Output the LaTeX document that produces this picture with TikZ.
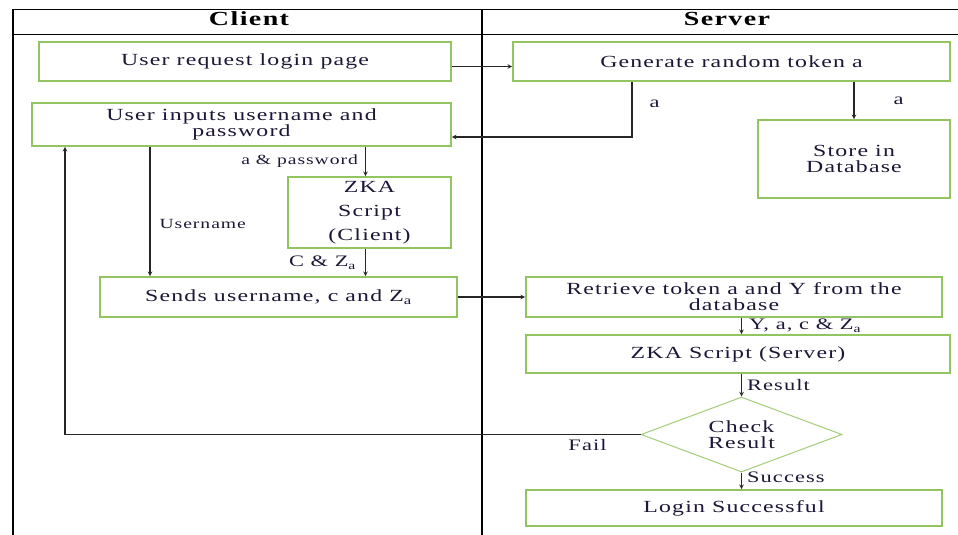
\documentclass[tikz,border=0pt]{standalone}
\usepackage{fontspec}
\setmainfont[FakeStretch=1.4,LetterSpace=7]{Liberation Serif}
\usetikzlibrary{shapes.geometric}
\definecolor{boxgreen}{RGB}{146,196,96}
\definecolor{inkc}{RGB}{30,22,55}

\begin{document}
\begin{tikzpicture}[x=1pt,y=-1pt,>=stealth,
  box/.style={rectangle,draw=boxgreen,line width=1.6pt,inner sep=0pt,align=center,text=inkc,font=\fontsize{17}{16}\selectfont},
  lbl/.style={text=inkc,inner sep=1pt,font=\fontsize{16}{16}\selectfont},
  flow/.style={->,line width=1.1pt,draw=black!85}]
  \useasboundingbox (0,0) rectangle (958,535);
  % lanes
  \draw[line width=1pt] (12,10) -- (958,10) (12,35) -- (958,35);
  \draw[line width=2.2pt] (13,10) -- (13,535);
  \draw[line width=1.8pt] (482,10) -- (482,535);
  \node[font=\fontsize{20}{20}\selectfont\bfseries] (client) at (249,19) {Client};
  \node[font=\fontsize{20}{20}\selectfont\bfseries] (server) at (727,19) {Server};
  % client side
  \node[box,minimum width=412pt,minimum height=39pt] (req) at (245,61.5) {User request login page};
  \node[box,minimum width=419pt,minimum height=43pt] (inp) at (241.5,124.5) {User inputs username and\\password};
  \node[box,minimum width=163pt,minimum height=71pt] (zkac) at (369.5,212.5) {ZKA\\[8pt]Script\\[8pt](Client)};
  \node[box,minimum width=357pt,minimum height=40pt] (send) at (278.5,297) {Sends username, c and Z\textsubscript{a}};
  % server side
  \node[box,minimum width=437pt,minimum height=39pt] (gen) at (731.5,61.5) {Generate random token a};
  \node[box,minimum width=192pt,minimum height=78pt] (store) at (854,159) {Store in\\Database};
  \node[box,minimum width=416pt,minimum height=40pt] (retr) at (734,297) {Retrieve token a and Y from the\\database};
  \node[box,minimum width=424pt,minimum height=38pt] (zkas) at (738,354) {ZKA Script (Server)};
  \node[diamond,draw=boxgreen!85,line width=1pt,aspect=2.7,inner sep=0pt,minimum width=201pt,minimum height=75pt,
        align=center,text=inkc,font=\fontsize{17}{16}\selectfont] (check) at (741.5,434.5) {Check\\Result};
  \node[box,minimum width=416pt,minimum height=36pt] (login) at (734,508) {Login Successful};
  % arrows
  \draw[flow] ([yshift=-5pt]req.east) -- ([yshift=-5pt]gen.west);
  \draw[flow] ([xshift=-99.5pt]gen.south) |- node[pos=.2,right=16pt,lbl]{a} ([yshift=-12.5pt]inp.east);
  \draw[flow] (store.north |- gen.south) -- node[midway,right=38pt,lbl]{a} (store.north);
  \draw[flow] ([xshift=-91.5pt]inp.south) -- node[pos=.6,right=8pt,lbl,font=\fontsize{14}{15}\selectfont]{Username} ([xshift=-128.5pt]send.north);
  \draw[flow] ([xshift=-4pt]zkac.north |- inp.south) -- node[midway,left=6pt,lbl,font=\fontsize{14}{15}\selectfont]{a \& password} ([xshift=-4pt]zkac.north);
  \draw[flow] ([xshift=-4pt]zkac.south) -- node[midway,left=8pt,lbl]{C \& Z\textsubscript{a}} ([xshift=-4pt]zkac.south |- send.north);
  \draw[flow] (send) -- (retr);
  \draw[flow] (retr.south -| check) -- node[midway,right=6pt,lbl]{Y, a, c \& Z\textsubscript{a}} (zkas.north -| check);
  \draw[flow] (zkas.south -| check) -- node[midway,right=4pt,lbl]{Result} (check.north);
  \draw[flow] (check.south) -- node[pos=.3,right=4pt,lbl]{Success} (login.north -| check);
  \draw[flow] (check.west) -| node[pos=.046,below=3pt,lbl]{Fail} ([xshift=-176.5pt]inp.south);
\end{tikzpicture}
\end{document}
